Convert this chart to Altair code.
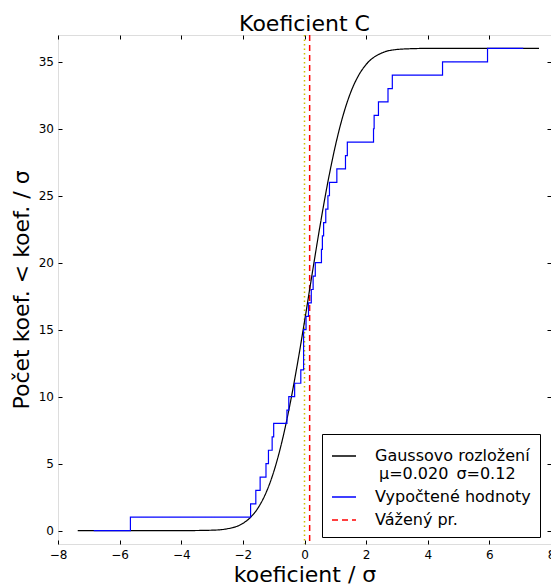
import altair as alt
import pandas as pd

# ---- data ----
gauss_x = [-7.36, -4.0, -3.0, -2.5, -2.0, -1.75, -1.5, -1.25, -1.0, -0.75, -0.5, -0.25,
           0.0, 0.25, 0.5, 0.75, 1.0, 1.25, 1.5, 1.75, 2.0, 2.5, 3.0, 3.5, 4.0, 7.61]
gauss_y = [0.0, 0.0, 0.03, 0.14, 0.54, 0.99, 1.72, 2.82, 4.38, 6.47, 9.09, 12.18,
           15.61, 19.19, 22.70, 25.92, 28.71, 30.98, 32.72, 33.96, 34.80, 35.65, 35.92, 35.98, 36.0, 36.0]

calc_x = [-6.84, -5.65, -1.75, -1.58, -1.44, -1.25, -1.17, -1.05, -1.00, -0.57, -0.51,
          -0.32, -0.12, -0.03, -0.03, -0.03, 0.05, 0.13, 0.22, 0.28, 0.35, 0.55, 0.58,
          0.62, 0.69, 0.76, 0.81, 1.05, 1.33, 1.39, 2.24, 2.26, 2.40, 2.71, 2.85, 4.48,
          5.94, 7.10]
calc_y = [0, 1, 2, 3, 4, 5, 6, 7, 8, 9, 10, 11, 12, 13, 14, 15, 16, 17, 18, 19, 20,
          21, 22, 23, 24, 25, 26, 27, 28, 29, 30, 31, 32, 33, 34, 35, 36, 36]

mean_x = [0.167]
zero_x = [0.0]

x_ticks = [-8, -6, -4, -2, 0, 2, 4, 6, 8]
y_ticks = [0, 5, 10, 15, 20, 25, 30, 35]

series_names = ["Gaussovo rozložení", "Vypočtené hodnoty", "Vážený pr."]
series_colors = ["#000000", "#0000ff", "#ff0000"]
series_dash = [[1, 0], [1, 0], [6, 4]]

FONT = "DejaVu Sans"

gauss_df = pd.DataFrame({"x": gauss_x, "y": gauss_y, "series": series_names[0],
                         "i": list(range(len(gauss_x)))})
calc_df = pd.DataFrame({"x": calc_x, "y": calc_y, "series": series_names[1],
                        "i": list(range(len(calc_x)))})
mean_df = pd.DataFrame({"x": mean_x, "series": series_names[2]})
zero_df = pd.DataFrame({"x": zero_x})

xscale = alt.Scale(domain=[-8, 8], nice=False, zero=False)
yscale = alt.Scale(domain=[-1, 37], nice=False, zero=False)

label_expr = ("datum.label == 'Gaussovo rozložení' ? "
              "['Gaussovo rozložení', '\u200b\u2005μ=0.020\u2005\u2005σ=0.12'] : datum.label")

legend = alt.Legend(
    title=None, orient="none", legendX=264, legendY=399,
    symbolType="stroke", symbolSize=576, symbolStrokeWidth=1.5,
    labelFont=FONT, labelFontSize=16, labelColor="black",
    labelOffset=18, labelLimit=0, rowPadding=2, padding=9,
    strokeColor="black", fillColor="white", cornerRadius=0,
    labelExpr=label_expr,
)

color = alt.Color("series:N",
                  scale=alt.Scale(domain=series_names, range=series_colors),
                  legend=legend)
dash = alt.StrokeDash("series:N",
                      scale=alt.Scale(domain=series_names, range=series_dash),
                      legend=legend)

axis_common = dict(domain=False, grid=False, tickSize=4, offset=-4, tickColor="black",
                   tickWidth=1, labelFont=FONT, labelFontSize=12, labelColor="black",
                   labelFlush=False, labelOverlap=False)

x_bottom = alt.Axis(orient="bottom", values=x_ticks, labelPadding=5,
                    title="koeficient / σ", titleFont=FONT, titleFontSize=22,
                    titleFontWeight="normal", titleColor="black",
                    titleBaseline="alphabetic", titleY=41, **axis_common)
y_left = alt.Axis(orient="left", values=y_ticks, labelPadding=4.5,
                  title="Počet koef. < koef. / σ", titleFont=FONT, titleFontSize=22,
                  titleFontWeight="normal", titleColor="black",
                  titleBaseline="alphabetic", titleX=-33.7, **axis_common)
x_top = alt.Axis(orient="top", values=x_ticks, labels=False, title=None, **axis_common)
y_right = alt.Axis(orient="right", values=y_ticks, labels=False, title=None, **axis_common)

zero_rule = alt.Chart(zero_df).mark_rule(color="#c8c000", strokeDash=[1.5, 3], strokeWidth=1.5).encode(
    x=alt.X("x:Q", scale=xscale, axis=None)
)

mean_rule = alt.Chart(mean_df).mark_rule(strokeWidth=1.5).encode(
    x=alt.X("x:Q", scale=xscale, axis=None),
    color=color,
    strokeDash=dash,
)

gauss_line = alt.Chart(gauss_df).mark_line(interpolate="monotone", strokeWidth=1.2).encode(
    x=alt.X("x:Q", scale=xscale, axis=x_bottom),
    y=alt.Y("y:Q", scale=yscale, axis=y_left),
    order=alt.Order("i:Q"),
    color=color,
    strokeDash=dash,
)

calc_line = alt.Chart(calc_df).mark_line(interpolate="step-after", strokeWidth=1.2).encode(
    x=alt.X("x:Q", scale=xscale, axis=x_top),
    y=alt.Y("y:Q", scale=yscale, axis=y_right),
    order=alt.Order("i:Q"),
    color=color,
    strokeDash=dash,
)

chart = alt.layer(zero_rule, mean_rule, gauss_line, calc_line).resolve_axis(
    x="independent", y="independent"
).properties(
    width=493, height=509,
    autosize=alt.AutoSizeParams(type="none"),
    padding={"left": 58, "top": 35, "right": 0, "bottom": 42},
    title=alt.TitleParams("Koeficient C", font=FONT, fontSize=22, fontWeight="normal",
                          color="black", anchor="middle", frame="group",
                          baseline="alphabetic", offset=5, dy=24),
).configure_view(stroke="black", strokeWidth=1).configure(background="white")

chart.save("out.html", embed_options={"renderer": "svg", "actions": False})
